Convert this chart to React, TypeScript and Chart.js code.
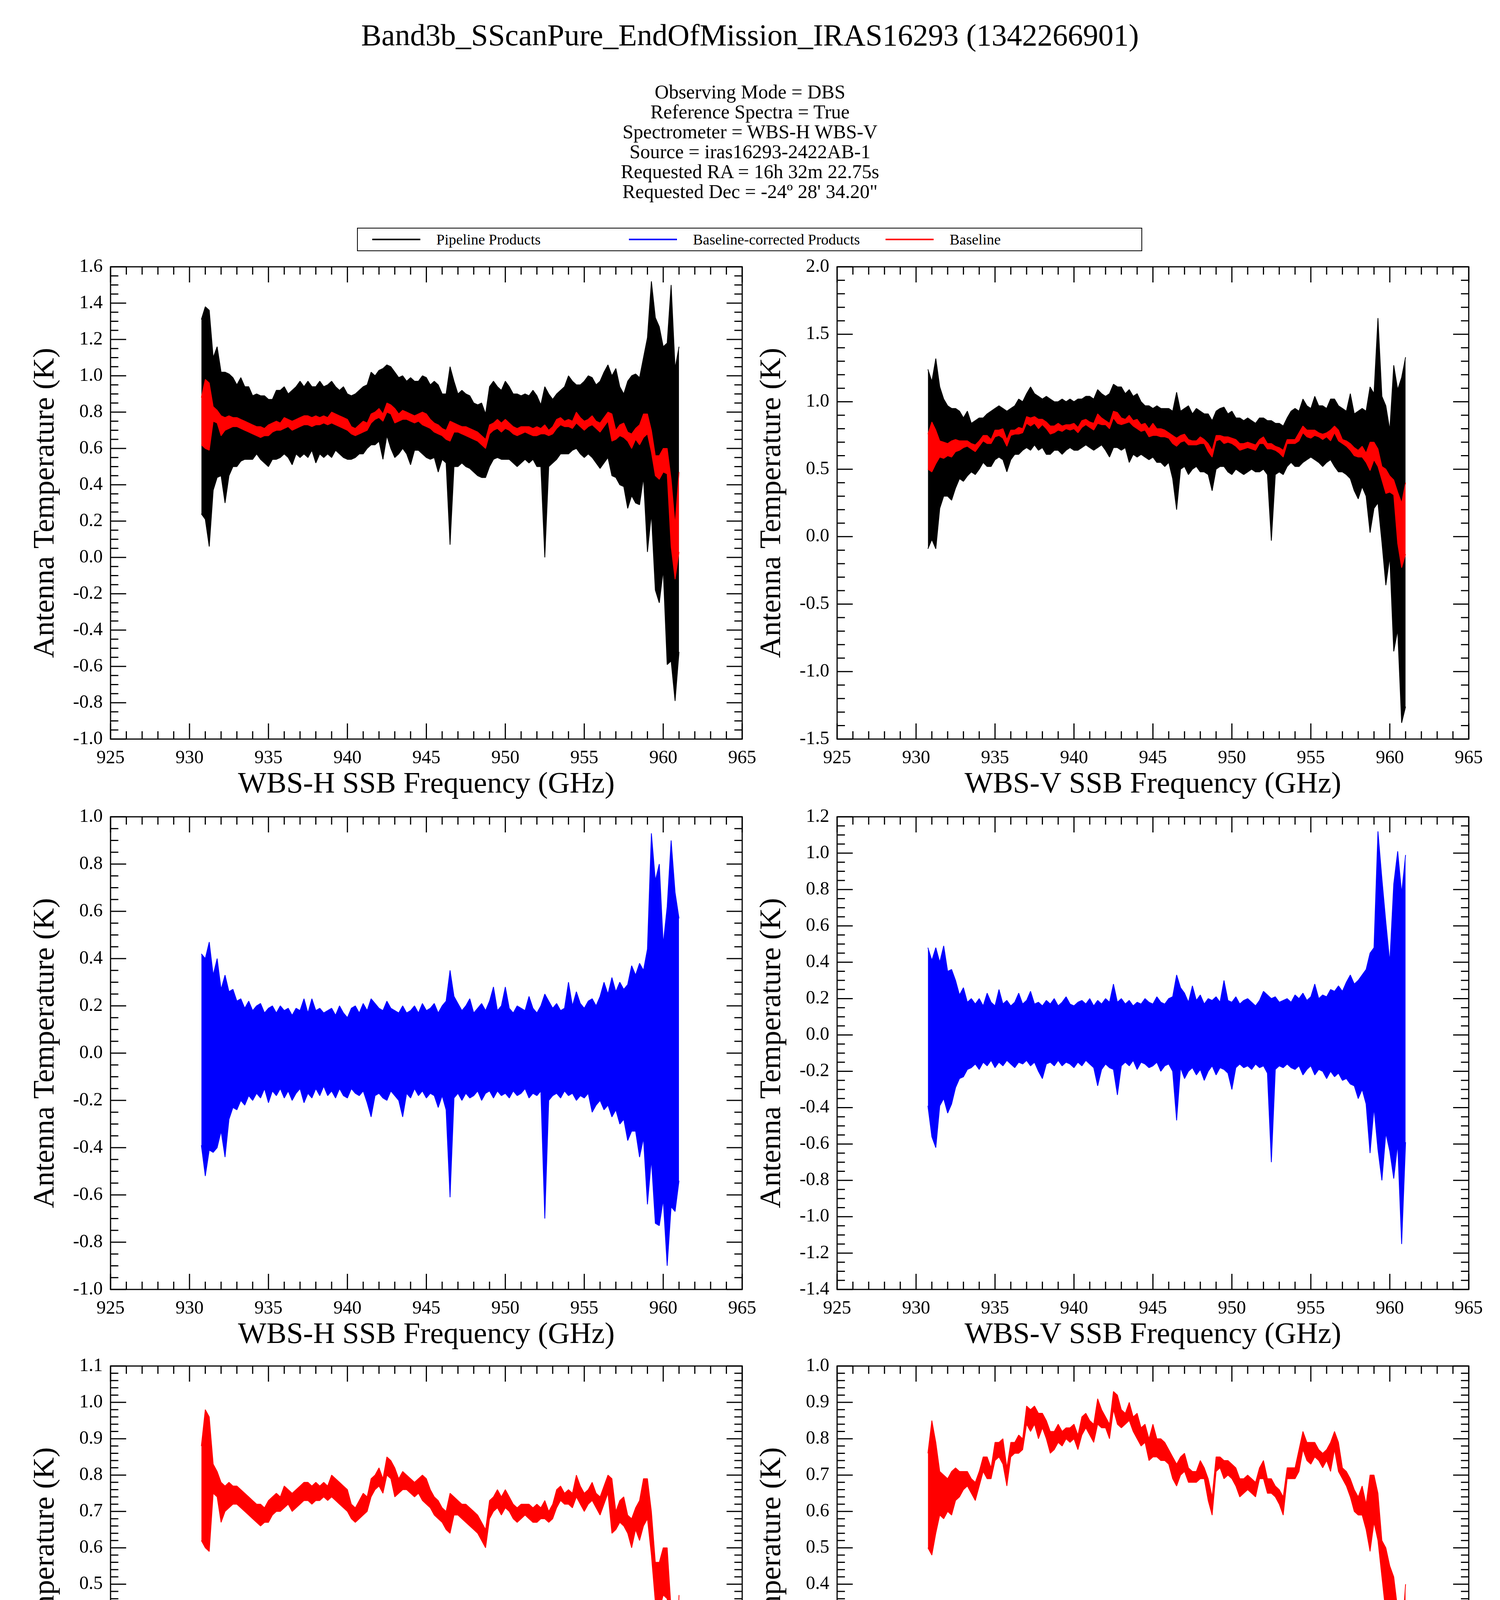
import React, { useEffect, useRef } from 'react';
import { Chart, registerables } from 'chart.js';

Chart.register(...registerables);

const SERIF = '"Liberation Serif", "Times New Roman", Times, serif';

const TITLE = 'Band3b_SScanPure_EndOfMission_IRAS16293 (1342266901)';
const INFO_LINES = [
  'Observing Mode = DBS',
  'Reference Spectra = True',
  'Spectrometer = WBS-H WBS-V',
  'Source = iras16293-2422AB-1',
  'Requested RA = 16h 32m 22.75s',
  'Requested Dec = -24\u00ba 28\' 34.20"',
];
const LEGEND_LABELS = ['Pipeline Products', 'Baseline-corrected Products', 'Baseline'];
const LEGEND_COLORS = ['#000000', '#0000ff', '#ff0000'];

const X_TITLES = ['WBS-H SSB Frequency (GHz)', 'WBS-V SSB Frequency (GHz)'];
const Y_TITLE = 'Antenna Temperature (K)';

// frequency samples (GHz)
const FREQ = [
  930.75, 931, 931.25, 931.5, 931.75, 932, 932.25, 932.5, 932.75, 933,
  933.25, 933.5, 933.75, 934, 934.25, 934.5, 934.75, 935, 935.25, 935.5,
  935.75, 936, 936.25, 936.5, 936.75, 937, 937.25, 937.5, 937.75, 938,
  938.25, 938.5, 938.75, 939, 939.25, 939.5, 939.75, 940, 940.25, 940.5,
  940.75, 941, 941.25, 941.5, 941.75, 942, 942.25, 942.5, 942.75, 943,
  943.25, 943.5, 943.75, 944, 944.25, 944.5, 944.75, 945, 945.25, 945.5,
  945.75, 946, 946.25, 946.5, 946.75, 947, 947.25, 947.5, 947.75, 948,
  948.25, 948.5, 948.75, 949, 949.25, 949.5, 949.75, 950, 950.25, 950.5,
  950.75, 951, 951.25, 951.5, 951.75, 952, 952.25, 952.5, 952.75, 953,
  953.25, 953.5, 953.75, 954, 954.25, 954.5, 954.75, 955, 955.25, 955.5,
  955.75, 956, 956.25, 956.5, 956.75, 957, 957.25, 957.5, 957.75, 958,
  958.25, 958.5, 958.75, 959, 959.25, 959.5, 959.75, 960, 960.25, 960.5,
  960.75, 961,
];

// WBS-H pipeline product: upper / lower envelope (K)
const H_PIPE_HI = [
  1.31, 1.38, 1.36, 1.10, 1.16, 1.02, 1.02, 1.01, 0.99, 0.95,
  0.99, 0.94, 0.94, 0.89, 0.90, 0.89, 0.89, 0.87, 0.87, 0.92,
  0.92, 0.94, 0.90, 0.92, 0.94, 0.97, 0.94, 0.97, 0.94, 0.94,
  0.97, 0.94, 0.95, 0.97, 0.94, 0.92, 0.94, 0.90, 0.89, 0.90,
  0.92, 0.94, 0.95, 1.02, 1.00, 1.03, 1.04, 1.06, 1.05, 1.02,
  0.99, 1.00, 0.97, 0.99, 0.97, 0.97, 1.00, 0.99, 0.95, 0.97,
  0.95, 0.90, 0.90, 1.05, 0.97, 0.90, 0.92, 0.90, 0.89, 0.85,
  0.84, 0.85, 0.79, 0.94, 0.97, 0.94, 0.92, 0.97, 0.94, 0.90,
  0.90, 0.89, 0.90, 0.89, 0.92, 0.89, 0.84, 0.94, 0.90, 0.87,
  0.90, 0.92, 0.94, 1.00, 0.97, 0.95, 0.95, 0.97, 1.00, 0.99,
  0.95, 0.97, 1.02, 1.06, 1.00, 1.04, 0.94, 0.90, 0.97, 1.00,
  1.01, 0.99, 1.10, 1.21, 1.52, 1.32, 1.27, 1.16, 1.18, 1.50,
  1.04, 1.16,
];
const H_PIPE_LO = [
  0.24, 0.21, 0.06, 0.37, 0.44, 0.45, 0.30, 0.45, 0.50, 0.50,
  0.53, 0.54, 0.54, 0.54, 0.57, 0.54, 0.52, 0.50, 0.54, 0.54,
  0.55, 0.57, 0.55, 0.51, 0.57, 0.55, 0.57, 0.55, 0.59, 0.52,
  0.57, 0.55, 0.57, 0.55, 0.59, 0.57, 0.55, 0.54, 0.54, 0.55,
  0.57, 0.57, 0.60, 0.62, 0.62, 0.64, 0.54, 0.67, 0.60, 0.55,
  0.57, 0.60, 0.57, 0.51, 0.59, 0.59, 0.57, 0.55, 0.54, 0.55,
  0.47, 0.54, 0.52, 0.07, 0.50, 0.50, 0.52, 0.50, 0.49, 0.47,
  0.45, 0.44, 0.44, 0.50, 0.54, 0.55, 0.54, 0.54, 0.54, 0.52,
  0.50, 0.52, 0.54, 0.52, 0.54, 0.50, 0.50, 0.00, 0.50, 0.52,
  0.54, 0.57, 0.57, 0.57, 0.59, 0.60, 0.57, 0.55, 0.57, 0.55,
  0.52, 0.49, 0.52, 0.55, 0.45, 0.44, 0.40, 0.39, 0.27, 0.34,
  0.30, 0.29, 0.44, 0.03, 0.24, -0.18, -0.25, -0.07, -0.59, -0.57,
  -0.79, -0.52,
];

// WBS-V pipeline product
const V_PIPE_HI = [
  1.24, 1.15, 1.32, 1.11, 1.02, 0.97, 0.95, 0.95, 0.93, 0.88,
  0.93, 0.84, 0.86, 0.88, 0.88, 0.91, 0.93, 0.95, 0.97, 0.95,
  0.93, 0.95, 0.97, 1.02, 1.00, 1.06, 1.11, 1.06, 1.04, 1.02,
  1.04, 1.02, 1.00, 1.00, 1.02, 1.00, 1.02, 1.00, 1.02, 1.02,
  1.04, 1.04, 1.02, 1.09, 1.06, 1.04, 1.06, 1.13, 1.11, 1.11,
  1.06, 1.09, 1.04, 1.06, 1.00, 0.97, 0.97, 0.95, 0.97, 0.95,
  0.95, 0.95, 0.93, 1.07, 0.93, 0.95, 0.97, 0.91, 0.95, 0.93,
  0.91, 0.91, 0.86, 0.93, 0.95, 0.96, 0.91, 0.93, 0.88, 0.88,
  0.86, 0.88, 0.86, 0.84, 0.88, 0.88, 0.86, 0.86, 0.84, 0.84,
  0.82, 0.88, 0.93, 0.95, 0.93, 1.02, 0.97, 0.95, 1.04, 0.97,
  0.97, 0.95, 1.02, 1.02, 0.97, 0.95, 0.93, 1.06, 0.91, 0.93,
  0.95, 0.93, 1.11, 1.06, 1.62, 1.04, 0.97, 0.79, 1.27, 1.09,
  1.18, 1.33,
];
const V_PIPE_LO = [
  -0.09, -0.02, -0.09, 0.21, 0.30, 0.30, 0.27, 0.36, 0.43, 0.41,
  0.45, 0.48, 0.46, 0.50, 0.55, 0.52, 0.52, 0.57, 0.59, 0.57,
  0.48, 0.57, 0.61, 0.61, 0.64, 0.66, 0.64, 0.68, 0.64, 0.66,
  0.61, 0.61, 0.64, 0.64, 0.61, 0.64, 0.66, 0.64, 0.64, 0.66,
  0.68, 0.66, 0.64, 0.66, 0.68, 0.64, 0.59, 0.66, 0.66, 0.64,
  0.66, 0.55, 0.61, 0.59, 0.61, 0.59, 0.57, 0.59, 0.55, 0.55,
  0.52, 0.55, 0.43, 0.20, 0.50, 0.52, 0.46, 0.50, 0.52, 0.48,
  0.48, 0.46, 0.34, 0.50, 0.52, 0.52, 0.48, 0.46, 0.50, 0.48,
  0.46, 0.48, 0.50, 0.48, 0.48, 0.50, 0.46, -0.03, 0.46, 0.48,
  0.46, 0.52, 0.55, 0.52, 0.52, 0.55, 0.57, 0.59, 0.57, 0.55,
  0.52, 0.55, 0.57, 0.52, 0.48, 0.48, 0.46, 0.43, 0.34, 0.28,
  0.37, 0.30, 0.03, 0.21, 0.25, -0.04, -0.36, -0.15, -0.85, -0.69,
  -1.38, -1.26,
];

// WBS-H baseline-corrected product
const H_CORR_HI = [
  0.42, 0.40, 0.47, 0.33, 0.40, 0.27, 0.33, 0.26, 0.27, 0.22,
  0.23, 0.19, 0.22, 0.18, 0.20, 0.21, 0.17, 0.19, 0.20, 0.17,
  0.20, 0.18, 0.19, 0.16, 0.19, 0.18, 0.23, 0.17, 0.23, 0.18,
  0.19, 0.17, 0.18, 0.19, 0.16, 0.20, 0.17, 0.15, 0.19, 0.20,
  0.17, 0.21, 0.18, 0.23, 0.21, 0.19, 0.18, 0.22, 0.19, 0.18,
  0.17, 0.20, 0.17, 0.18, 0.20, 0.17, 0.21, 0.18, 0.19, 0.21,
  0.17, 0.20, 0.22, 0.35, 0.24, 0.21, 0.18, 0.20, 0.23, 0.17,
  0.19, 0.21, 0.18, 0.22, 0.28, 0.18, 0.20, 0.28, 0.19, 0.17,
  0.20, 0.19, 0.18, 0.24, 0.19, 0.17, 0.20, 0.25, 0.22, 0.19,
  0.21, 0.18, 0.19, 0.30, 0.20, 0.26, 0.21, 0.19, 0.22, 0.23,
  0.20, 0.24, 0.30, 0.25, 0.32, 0.26, 0.30, 0.27, 0.29, 0.37,
  0.33, 0.38, 0.35, 0.44, 0.93, 0.73, 0.80, 0.46, 0.62, 0.90,
  0.68, 0.57,
];
const H_CORR_LO = [
  -0.39, -0.52, -0.41, -0.42, -0.40, -0.33, -0.44, -0.28, -0.23, -0.24,
  -0.20, -0.22, -0.18, -0.20, -0.17, -0.19, -0.15, -0.21, -0.16, -0.18,
  -0.15, -0.19, -0.16, -0.20, -0.17, -0.15, -0.21, -0.17, -0.19, -0.15,
  -0.18, -0.14, -0.18, -0.16, -0.19, -0.15, -0.18, -0.19, -0.15, -0.17,
  -0.18, -0.16, -0.21, -0.27, -0.18, -0.17, -0.19, -0.20, -0.16, -0.18,
  -0.20, -0.27, -0.17, -0.19, -0.15, -0.18, -0.16, -0.19, -0.17, -0.18,
  -0.23, -0.18, -0.24, -0.61, -0.19, -0.17, -0.20, -0.17, -0.19, -0.18,
  -0.16, -0.20, -0.17, -0.16, -0.19, -0.16, -0.18, -0.17, -0.19, -0.16,
  -0.18, -0.17, -0.15, -0.19, -0.17, -0.18, -0.16, -0.70, -0.20, -0.18,
  -0.17, -0.19, -0.16, -0.18, -0.17, -0.20, -0.18, -0.19, -0.17, -0.25,
  -0.22, -0.20, -0.24, -0.22, -0.27, -0.24, -0.30, -0.28, -0.37, -0.33,
  -0.33, -0.44, -0.36, -0.64, -0.45, -0.72, -0.73, -0.62, -0.90, -0.65,
  -0.67, -0.54,
];

// WBS-V baseline-corrected product
const V_CORR_HI = [
  0.48, 0.41, 0.48, 0.40, 0.49, 0.35, 0.36, 0.30, 0.22, 0.26,
  0.18, 0.20, 0.17, 0.20, 0.16, 0.23, 0.18, 0.16, 0.25, 0.17,
  0.19, 0.16, 0.18, 0.23, 0.17, 0.19, 0.24, 0.17, 0.18, 0.16,
  0.19, 0.17, 0.20, 0.16, 0.18, 0.21, 0.17, 0.16, 0.18, 0.19,
  0.17, 0.20, 0.16, 0.19, 0.17, 0.20, 0.18, 0.28, 0.18, 0.20,
  0.17, 0.19, 0.16, 0.18, 0.17, 0.20, 0.18, 0.17, 0.21, 0.18,
  0.17, 0.20, 0.21, 0.33, 0.26, 0.23, 0.18, 0.27, 0.19, 0.22,
  0.17, 0.20, 0.19, 0.21, 0.18, 0.30, 0.19, 0.18, 0.21, 0.17,
  0.19, 0.20, 0.18, 0.16, 0.19, 0.24, 0.22, 0.20, 0.21, 0.18,
  0.19, 0.20, 0.18, 0.22, 0.20, 0.23, 0.19, 0.21, 0.28, 0.20,
  0.22, 0.21, 0.25, 0.24, 0.27, 0.24, 0.29, 0.33, 0.28, 0.30,
  0.33, 0.36, 0.45, 0.48, 1.12, 0.86, 0.62, 0.40, 0.83, 1.01,
  0.78, 0.99,
];
const V_CORR_LO = [
  -0.39, -0.56, -0.62, -0.39, -0.35, -0.43, -0.38, -0.29, -0.24, -0.23,
  -0.19, -0.18, -0.16, -0.19, -0.15, -0.17, -0.14, -0.18, -0.15, -0.17,
  -0.14, -0.16, -0.18, -0.15, -0.16, -0.14, -0.17, -0.15, -0.20, -0.24,
  -0.16, -0.15, -0.17, -0.14, -0.17, -0.15, -0.16, -0.18, -0.15, -0.17,
  -0.14, -0.16, -0.18, -0.28, -0.19, -0.16, -0.18, -0.19, -0.33, -0.17,
  -0.15, -0.17, -0.14, -0.19, -0.15, -0.16, -0.18, -0.17, -0.15, -0.20,
  -0.17, -0.16, -0.20, -0.47, -0.18, -0.24, -0.20, -0.18, -0.22, -0.19,
  -0.25, -0.20, -0.17, -0.22, -0.18, -0.19, -0.21, -0.30, -0.18, -0.16,
  -0.18, -0.17, -0.19, -0.16, -0.18, -0.17, -0.21, -0.70, -0.19, -0.17,
  -0.18, -0.16, -0.18, -0.19, -0.17, -0.22, -0.19, -0.17, -0.22, -0.19,
  -0.20, -0.24, -0.20, -0.23, -0.21, -0.25, -0.24, -0.27, -0.28, -0.35,
  -0.30, -0.38, -0.65, -0.40, -0.63, -0.80, -0.54, -0.64, -0.79, -0.60,
  -1.15, -0.59,
];

// WBS-H baseline
const H_BASE_HI = [
  0.88, 0.98, 0.96, 0.83, 0.81, 0.78, 0.77, 0.78, 0.77, 0.77,
  0.76, 0.75, 0.74, 0.73, 0.72, 0.72, 0.71, 0.73, 0.74, 0.75,
  0.74, 0.77, 0.76, 0.75, 0.76, 0.77, 0.78, 0.78, 0.77, 0.78,
  0.77, 0.78, 0.77, 0.80, 0.79, 0.78, 0.77, 0.76, 0.72, 0.71,
  0.73, 0.75, 0.74, 0.79, 0.80, 0.82, 0.79, 0.85, 0.84, 0.82,
  0.79, 0.81, 0.80, 0.79, 0.78, 0.79, 0.80, 0.79, 0.76, 0.74,
  0.73, 0.71, 0.70, 0.75, 0.74, 0.73, 0.72, 0.72, 0.71, 0.70,
  0.69, 0.67, 0.65, 0.73, 0.74, 0.76, 0.74, 0.76, 0.74, 0.72,
  0.71, 0.72, 0.72, 0.72, 0.71, 0.72, 0.71, 0.73, 0.70, 0.72,
  0.76, 0.77, 0.75, 0.76, 0.75, 0.80, 0.77, 0.75, 0.76, 0.78,
  0.75, 0.74, 0.77, 0.80, 0.79, 0.70, 0.73, 0.74, 0.69, 0.68,
  0.71, 0.73, 0.79, 0.79, 0.70, 0.56, 0.56, 0.60, 0.60, 0.43,
  0.18, 0.47,
];
const H_BASE_LO = [
  0.62, 0.60, 0.59, 0.75, 0.74, 0.67, 0.70, 0.71, 0.72, 0.72,
  0.71, 0.70, 0.69, 0.68, 0.67, 0.66, 0.67, 0.67, 0.69, 0.70,
  0.70, 0.71, 0.72, 0.70, 0.71, 0.72, 0.73, 0.73, 0.72, 0.73,
  0.73, 0.74, 0.73, 0.74, 0.73, 0.72, 0.71, 0.70, 0.68, 0.67,
  0.68, 0.69, 0.70, 0.74, 0.76, 0.77, 0.75, 0.80, 0.79, 0.74,
  0.75, 0.76, 0.76, 0.75, 0.74, 0.75, 0.73, 0.72, 0.71, 0.69,
  0.68, 0.67, 0.65, 0.64, 0.69, 0.69, 0.68, 0.67, 0.66, 0.65,
  0.64, 0.62, 0.60, 0.68, 0.70, 0.71, 0.69, 0.71, 0.70, 0.68,
  0.67, 0.68, 0.69, 0.68, 0.67, 0.67, 0.68, 0.68, 0.67, 0.68,
  0.71, 0.73, 0.72, 0.72, 0.71, 0.74, 0.72, 0.70, 0.72, 0.73,
  0.71, 0.69, 0.72, 0.75, 0.64, 0.65, 0.67, 0.66, 0.64, 0.60,
  0.65, 0.62, 0.66, 0.68, 0.58, 0.45, 0.43, 0.47, 0.46, 0.06,
  -0.12, 0.03,
];

// WBS-V baseline
const V_BASE_HI = [
  0.76, 0.85, 0.79, 0.71, 0.70, 0.69, 0.71, 0.72, 0.71, 0.71,
  0.71, 0.69, 0.68, 0.71, 0.75, 0.75, 0.72, 0.79, 0.79, 0.80,
  0.72, 0.79, 0.79, 0.81, 0.80, 0.89, 0.88, 0.89, 0.87, 0.87,
  0.85, 0.82, 0.82, 0.84, 0.82, 0.83, 0.83, 0.84, 0.81, 0.86,
  0.87, 0.85, 0.84, 0.91, 0.88, 0.86, 0.84, 0.93, 0.92, 0.88,
  0.87, 0.90, 0.86, 0.87, 0.83, 0.84, 0.80, 0.84, 0.80, 0.80,
  0.79, 0.77, 0.75, 0.73, 0.75, 0.76, 0.72, 0.71, 0.71, 0.74,
  0.72, 0.69, 0.64, 0.75, 0.75, 0.74, 0.74, 0.73, 0.72, 0.69,
  0.69, 0.70, 0.69, 0.68, 0.72, 0.74, 0.69, 0.69, 0.67, 0.66,
  0.64, 0.72, 0.72, 0.72, 0.77, 0.82, 0.79, 0.79, 0.79, 0.77,
  0.76, 0.77, 0.79, 0.82, 0.79, 0.72, 0.71, 0.69, 0.66, 0.64,
  0.67, 0.62, 0.70, 0.70, 0.65, 0.52, 0.50, 0.45, 0.42, 0.33,
  0.25, 0.40,
];
const V_BASE_LO = [
  0.50, 0.48, 0.54, 0.59, 0.58, 0.60, 0.59, 0.63, 0.64, 0.66,
  0.67, 0.65, 0.63, 0.67, 0.71, 0.69, 0.69, 0.74, 0.75, 0.73,
  0.67, 0.75, 0.76, 0.76, 0.77, 0.84, 0.82, 0.84, 0.80, 0.83,
  0.80, 0.76, 0.77, 0.79, 0.78, 0.80, 0.79, 0.80, 0.77, 0.81,
  0.83, 0.81, 0.79, 0.84, 0.83, 0.83, 0.80, 0.88, 0.84, 0.83,
  0.84, 0.85, 0.82, 0.80, 0.78, 0.79, 0.74, 0.75, 0.75, 0.74,
  0.74, 0.73, 0.69, 0.67, 0.70, 0.71, 0.68, 0.68, 0.68, 0.69,
  0.69, 0.63, 0.59, 0.71, 0.72, 0.69, 0.70, 0.69, 0.67, 0.64,
  0.65, 0.66, 0.65, 0.64, 0.69, 0.69, 0.65, 0.65, 0.64, 0.62,
  0.59, 0.69, 0.69, 0.69, 0.71, 0.77, 0.74, 0.73, 0.75, 0.74,
  0.72, 0.74, 0.71, 0.77, 0.71, 0.69, 0.67, 0.64, 0.60, 0.59,
  0.59, 0.55, 0.49, 0.57, 0.52, 0.42, 0.32, 0.33, 0.31, -0.05,
  -0.23, -0.13,
];

// axis settings per panel: [yMin, yMax, yMajor, yMinor]
const Y_AXES = [
  [-1.0, 1.6, 0.2, 0.05],
  [-1.5, 2.0, 0.5, 0.1],
  [-1.0, 1.0, 0.2, 0.05],
  [-1.4, 1.2, 0.2, 0.05],
  [-0.2, 1.1, 0.1, 0.02],
  [-0.3, 1.0, 0.1, 0.02],
];
const X_MIN = 925;
const X_MAX = 965;
const X_MAJOR = 5;
const X_MINOR = 1;

// layout (page pixels)
const ROW_TOP = [683, 2091, 3497];
const ROW_BOTTOM = [1892, 3301, 4707];
const COL_CANVAS_LEFT = [0, 1860];
const COL_CANVAS_WIDTH = [1960, 1980];
const PLOT_LEFT_IN_CANVAS = 283;
const PLOT_RIGHT_IN_CANVAS = 1900;
const PAD_TOP = 60;
const X_AXIS_H = 170;

const frameTicks = {
  id: 'frameTicks',
  afterDatasetsDraw(chart: any, _args: any, opts: any) {
    const { ctx, chartArea: a, scales } = chart;
    const xs = scales.x;
    const ys = scales.y;
    const major = 40;
    const minor = 20;
    ctx.save();
    ctx.strokeStyle = '#000';
    ctx.lineWidth = 3;
    ctx.lineCap = 'butt';
    ctx.beginPath();
    const isMajor = (v: number, step: number, base: number) => {
      const r = (v - base) / step;
      return Math.abs(r - Math.round(r)) < 1e-6;
    };
    // x ticks
    const nx = Math.round((xs.max - xs.min) / opts.xMinor);
    for (let k = 0; k <= nx; k++) {
      const v = xs.min + k * opts.xMinor;
      const px = xs.getPixelForValue(v);
      const len = isMajor(v, opts.xMajor, xs.min) ? major : minor;
      ctx.moveTo(px, a.bottom);
      ctx.lineTo(px, a.bottom - len);
      ctx.moveTo(px, a.top);
      ctx.lineTo(px, a.top + len);
    }
    // y ticks
    const ny = Math.round((ys.max - ys.min) / opts.yMinor);
    for (let k = 0; k <= ny; k++) {
      const v = ys.min + k * opts.yMinor;
      const py = ys.getPixelForValue(v);
      const len = isMajor(v, opts.yMajor, ys.min) ? major : minor;
      ctx.moveTo(a.left, py);
      ctx.lineTo(a.left + len, py);
      ctx.moveTo(a.right, py);
      ctx.lineTo(a.right - len, py);
    }
    ctx.stroke();
    ctx.lineWidth = 3;
    ctx.strokeRect(a.left, a.top, a.right - a.left, a.bottom - a.top);
    ctx.restore();
  },
};

type Band = { hi: number[]; lo: number[]; color: string; order: number };

function bandDatasets(b: Band) {
  const common = {
    borderColor: b.color,
    backgroundColor: b.color,
    borderWidth: 2,
    pointRadius: 0,
    tension: 0,
    borderJoinStyle: 'bevel',
    order: b.order,
  };
  return [
    { ...common, data: FREQ.map((f, i) => ({ x: f, y: b.hi[i] })), fill: '+1' },
    { ...common, data: FREQ.map((f, i) => ({ x: f, y: b.lo[i] })), fill: false },
  ];
}

function Panel(props: { row: number; col: number; bands: Band[] }) {
  const { row, col, bands } = props;
  const ref = useRef<HTMLCanvasElement | null>(null);
  const axis = Y_AXES[row * 2 + col];
  const width = COL_CANVAS_WIDTH[col];
  const height = ROW_BOTTOM[row] - ROW_TOP[row] + PAD_TOP + X_AXIS_H;
  const left = COL_CANVAS_LEFT[col];
  const top = ROW_TOP[row] - PAD_TOP;

  useEffect(() => {
    if (!ref.current) return;
    const datasets: any[] = [];
    bands.forEach((b) => datasets.push(...bandDatasets(b)));
    const chart = new Chart(ref.current, {
      type: 'line',
      data: { datasets },
      options: {
        responsive: false,
        animation: false,
        devicePixelRatio: 1,
        layout: {
          padding: { top: PAD_TOP, right: width - PLOT_RIGHT_IN_CANVAS, left: 0, bottom: 0 },
        },
        plugins: {
          legend: { display: false },
          tooltip: { enabled: false },
          frameTicks: { xMajor: X_MAJOR, xMinor: X_MINOR, yMajor: axis[2], yMinor: axis[3] },
        } as any,
        scales: {
          x: {
            type: 'linear',
            min: X_MIN,
            max: X_MAX,
            afterFit: (s: any) => {
              s.height = X_AXIS_H;
            },
            grid: { display: false, drawTicks: false },
            border: { display: false },
            ticks: {
              stepSize: X_MAJOR,
              autoSkip: false,
              maxRotation: 0,
              padding: 21,
              color: '#000',
              font: { family: SERIF, size: 48 },
              callback: (v: any) => String(Math.round(Number(v))),
            },
            title: {
              display: true,
              text: X_TITLES[col],
              color: '#000',
              font: { family: SERIF, size: 77, lineHeight: 1 },
              padding: { top: 0, bottom: 15 },
            },
          },
          y: {
            type: 'linear',
            min: axis[0],
            max: axis[1],
            afterFit: (s: any) => {
              s.width = PLOT_LEFT_IN_CANVAS;
            },
            grid: { display: false, drawTicks: false },
            border: { display: false },
            ticks: {
              stepSize: axis[2],
              autoSkip: false,
              padding: 20,
              color: '#000',
              font: { family: SERIF, size: 48 },
              callback: (v: any) => Number(v).toFixed(1),
            },
            title: {
              display: true,
              text: Y_TITLE,
              color: '#000',
              font: { family: SERIF, size: 77, lineHeight: 1 },
              padding: { top: 78, bottom: 0 },
            },
          },
        },
      } as any,
      plugins: [frameTicks as any],
    });
    return () => chart.destroy();
  }, []);

  return (
    <canvas
      ref={ref}
      width={width}
      height={height}
      style={{ position: 'absolute', left, top, width, height }}
    />
  );
}

const LEGEND_LINE_X = [953, 1610, 2267];
const LEGEND_TEXT_X = [1117, 1774, 2431];

export default function App() {
  useEffect(() => {
    document.body.style.margin = '0';
    document.body.style.background = '#ffffff';
  }, []);

  const black = '#000000';
  const blue = '#0000ff';
  const red = '#ff0000';

  return (
    <div
      style={{
        position: 'absolute',
        left: 0,
        top: 0,
        width: 3840,
        height: 4943,
        background: '#ffffff',
        overflow: 'hidden',
        fontFamily: SERIF,
        color: '#000',
      }}
    >
      <div
        style={{
          position: 'absolute',
          left: 0,
          width: 3840,
          top: 51,
          textAlign: 'center',
          fontSize: 78,
          lineHeight: '78px',
          whiteSpace: 'nowrap',
        }}
      >
        {TITLE}
      </div>
      <div
        style={{
          position: 'absolute',
          left: 0,
          width: 3840,
          top: 210,
          textAlign: 'center',
          fontSize: 50,
          lineHeight: '51px',
          whiteSpace: 'nowrap',
        }}
      >
        {INFO_LINES.map((l, i) => (
          <div key={i}>{l}</div>
        ))}
      </div>
      <div
        style={{
          position: 'absolute',
          left: 914,
          top: 583,
          width: 2010,
          height: 60,
          border: '2px solid #000',
          boxSizing: 'border-box',
        }}
      />
      {LEGEND_LABELS.map((l, i) => (
        <React.Fragment key={l}>
          <div
            style={{
              position: 'absolute',
              left: LEGEND_LINE_X[i],
              top: 611,
              width: 123,
              height: 4,
              background: LEGEND_COLORS[i],
            }}
          />
          <div
            style={{
              position: 'absolute',
              left: LEGEND_TEXT_X[i],
              top: 593,
              fontSize: 38,
              lineHeight: '40px',
              whiteSpace: 'nowrap',
            }}
          >
            {l}
          </div>
        </React.Fragment>
      ))}
      <Panel
        row={0}
        col={0}
        bands={[
          { hi: H_BASE_HI, lo: H_BASE_LO, color: red, order: 0 },
          { hi: H_PIPE_HI, lo: H_PIPE_LO, color: black, order: 1 },
        ]}
      />
      <Panel
        row={0}
        col={1}
        bands={[
          { hi: V_BASE_HI, lo: V_BASE_LO, color: red, order: 0 },
          { hi: V_PIPE_HI, lo: V_PIPE_LO, color: black, order: 1 },
        ]}
      />
      <Panel row={1} col={0} bands={[{ hi: H_CORR_HI, lo: H_CORR_LO, color: blue, order: 0 }]} />
      <Panel row={1} col={1} bands={[{ hi: V_CORR_HI, lo: V_CORR_LO, color: blue, order: 0 }]} />
      <Panel row={2} col={0} bands={[{ hi: H_BASE_HI, lo: H_BASE_LO, color: red, order: 0 }]} />
      <Panel row={2} col={1} bands={[{ hi: V_BASE_HI, lo: V_BASE_LO, color: red, order: 0 }]} />
    </div>
  );
}
